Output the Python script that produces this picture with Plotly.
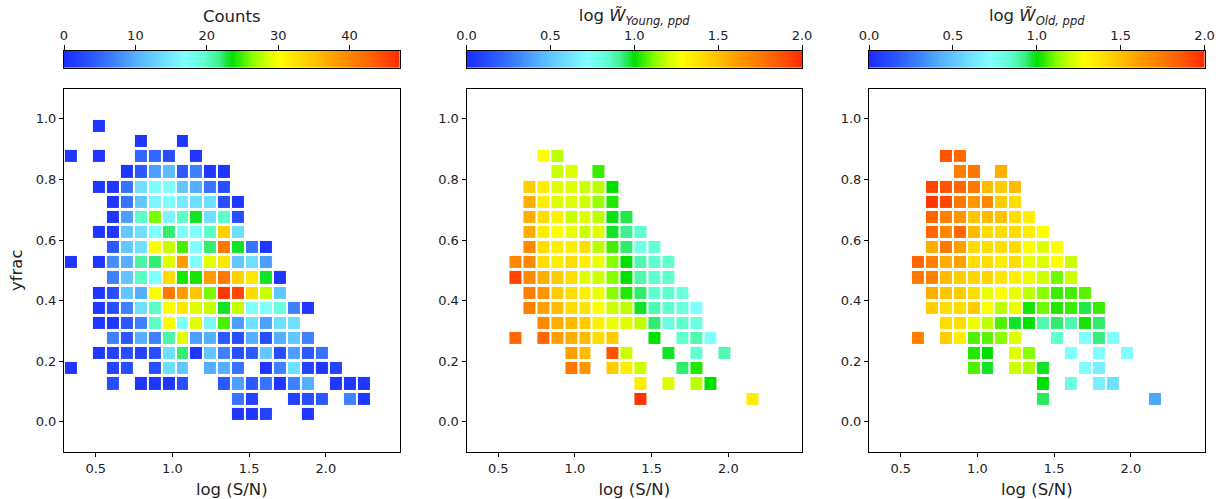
import numpy as np
import plotly.graph_objects as go

N = None

# bin centres (log S/N) and (yfrac)
x_centers = [0.338, 0.429, 0.520, 0.611, 0.702, 0.793, 0.884, 0.974, 1.065, 1.156, 1.247,
             1.338, 1.429, 1.520, 1.611, 1.702, 1.793, 1.884, 1.974, 2.065, 2.156, 2.247]
y_centers = [0.025, 0.075, 0.125, 0.175, 0.225, 0.275, 0.325, 0.375, 0.425, 0.475,
             0.525, 0.575, 0.625, 0.675, 0.725, 0.775, 0.825, 0.875, 0.925, 0.975]

# Panel 1: counts per bin (rows = y bins from bottom, cols = x bins)
counts = [
    [N, N, N, N, N, N, N, N, N, N, N, N, 1, 1, 2, N, N, 1, N, N, N, N],
    [N, N, N, N, N, N, N, N, N, N, N, N, 6, 2, N, N, 2, 3, 4, N, 7, 1],
    [N, N, N, 3, N, 1, 1, 1, 3, N, N, 4, 9, 4, 6, 1, 7, 10, N, 1, 1, 1],
    [1, N, N, 2, 3, N, 3, 14, 12, N, 10, 10, 6, N, 1, 7, 14, 2, 1, 2, N, N],
    [N, N, 1, 2, 3, 2, 3, 14, 22, 1, 12, 7, 3, 4, 12, 3, 9, 4, 6, N, N, N],
    [N, N, N, 7, 4, 10, 7, 21, 29, 9, 10, 4, 3, 10, 3, 10, 12, 7, N, N, N, N],
    [N, N, 1, 1, 4, 7, 20, 30, 17, 29, 16, 25, 9, 14, 9, 14, 14, N, N, N, N, N],
    [N, N, 1, 3, 7, 14, 20, 30, 32, 29, 28, 23, 28, 17, 17, 19, 7, 1, N, N, N, N],
    [N, N, 1, 3, 12, 10, 30, 41, 38, 35, 26, 46, 45, 33, 28, 12, N, N, N, N, N, N],
    [N, N, N, 7, 12, 20, 17, 33, 24, 24, 38, 41, 34, 32, 23, 1, N, N, N, N, N, N],
    [1, N, 1, 8, 10, 21, 22, 29, 38, 17, 29, 32, 12, 14, 9, N, N, N, N, N, N, N],
    [N, N, N, 4, 12, 14, 30, 28, 25, 17, 22, 41, 23, 6, 1, N, N, N, N, N, N, N],
    [N, N, 1, 1, 12, 14, 17, 22, 17, 17, 20, 34, 14, N, N, N, N, N, N, N, N, N],
    [N, N, N, 1, 9, 20, 26, 16, 20, 23, 14, 20, 3, N, N, N, N, N, N, N, N, N],
    [N, N, N, 1, 6, 12, 16, 17, 15, 14, 14, 3, 1, N, N, N, N, N, N, N, N, N],
    [N, N, 1, 1, 6, 14, 17, 17, 12, 10, 6, 3, N, N, N, N, N, N, N, N, N, N],
    [N, N, N, N, 1, 4, 9, 11, 4, 7, 1, 1, N, N, N, N, N, N, N, N, N, N],
    [1, N, 1, N, N, 5, 5, 3, N, 1, N, N, N, N, N, N, N, N, N, N, N, N],
    [N, N, N, N, N, 1, N, N, 1, N, N, N, N, N, N, N, N, N, N, N, N, N],
    [N, N, 1, N, N, N, N, N, N, N, N, N, N, N, N, N, N, N, N, N, N, N],
]

# Panel 2: log W_Young,ppd
young = [
    [N, N, N, N, N, N, N, N, N, N, N, N, N, N, N, N, N, N, N, N, N, N],
    [N, N, N, N, N, N, N, N, N, N, N, N, 1.97, N, N, N, N, N, N, N, 1.34, N],
    [N, N, N, N, N, N, N, N, N, N, N, N, 1.34, N, 1.23, N, 1.18, 1.00, N, N, N, N],
    [N, N, N, N, N, N, N, 1.75, 1.64, N, 1.46, 1.34, 1.20, N, N, 0.94, 1.03, N, N, N, N, N],
    [N, N, N, N, N, N, N, 1.60, 1.52, N, 1.88, 1.20, N, N, 0.98, N, 0.84, N, 0.88, N, N, N],
    [N, N, N, 1.82, N, 1.82, 1.60, 1.56, 1.52, 1.40, 1.46, N, N, 1.00, N, 0.84, 0.88, 0.72, N, N, N, N],
    [N, N, N, N, N, 1.69, 1.56, 1.52, 1.46, 1.34, 1.25, 1.23, 1.18, 0.94, 0.80, 0.84, 0.80, N, N, N, N, N],
    [N, N, N, N, 1.72, 1.60, 1.52, 1.40, 1.38, 1.28, 1.20, 1.18, 0.98, 0.88, 0.84, 0.80, 0.72, N, N, N, N, N],
    [N, N, N, N, 1.72, 1.64, 1.46, 1.40, 1.34, 1.25, 1.12, 1.03, 0.94, 0.84, 0.84, 0.80, N, N, N, N, N, N],
    [N, N, N, 1.92, 1.69, 1.56, 1.46, 1.40, 1.23, 1.20, 1.12, 1.00, 0.88, 0.84, 0.84, N, N, N, N, N, N, N],
    [N, N, N, 1.69, 1.69, 1.40, 1.34, 1.40, 1.34, 1.25, 1.12, 1.00, 0.88, 0.84, 0.84, N, N, N, N, N, N, N],
    [N, N, N, N, 1.69, 1.40, 1.34, 1.34, 1.40, 1.18, 1.06, 0.94, 0.78, 0.82, N, N, N, N, N, N, N, N],
    [N, N, N, N, 1.56, 1.34, 1.28, 1.25, 1.20, 1.23, 0.98, 0.92, 0.84, N, N, N, N, N, N, N, N, N],
    [N, N, N, N, 1.56, 1.40, 1.34, 1.20, 1.23, 1.18, 0.99, 0.96, N, N, N, N, N, N, N, N, N, N],
    [N, N, N, N, 1.56, 1.34, 1.23, 1.23, 1.20, 1.14, 1.03, N, N, N, N, N, N, N, N, N, N, N],
    [N, N, N, N, 1.46, 1.34, 1.23, 1.23, 1.20, 1.18, 1.00, N, N, N, N, N, N, N, N, N, N, N],
    [N, N, N, N, N, N, 1.20, 1.23, N, 1.05, N, N, N, N, N, N, N, N, N, N, N, N],
    [N, N, N, N, N, 1.28, 1.18, N, N, N, N, N, N, N, N, N, N, N, N, N, N, N],
    [N, N, N, N, N, N, N, N, N, N, N, N, N, N, N, N, N, N, N, N, N, N],
    [N, N, N, N, N, N, N, N, N, N, N, N, N, N, N, N, N, N, N, N, N, N],
]

# Panel 3: log W_Old,ppd
old = [
    [N, N, N, N, N, N, N, N, N, N, N, N, N, N, N, N, N, N, N, N, N, N],
    [N, N, N, N, N, N, N, N, N, N, N, N, 0.95, N, N, N, N, N, N, N, 0.40, N],
    [N, N, N, N, N, N, N, N, N, N, N, N, 1.00, N, 0.80, N, 0.66, 0.60, N, N, N, N],
    [N, N, N, N, N, N, N, 1.07, 0.98, N, 1.20, 1.16, 0.98, N, N, 0.72, 0.66, N, N, N, N, N],
    [N, N, N, N, N, N, N, 1.03, 1.00, N, 1.23, 1.12, N, N, 0.72, N, 0.72, N, 0.72, N, N, N],
    [N, N, N, 1.72, N, 1.46, 1.34, 1.07, 1.08, 1.12, 1.23, N, N, 0.84, N, 0.72, 0.93, 0.72, N, N, N, N],
    [N, N, N, N, N, 1.40, 1.40, 1.25, 1.18, 1.07, 0.98, 1.00, 0.88, 0.94, 0.88, 1.02, 0.94, N, N, N, N, N],
    [N, N, N, N, 1.46, 1.40, 1.40, 1.46, 1.28, 1.18, 1.25, 1.02, 1.10, 1.03, 1.05, 0.96, 1.05, N, N, N, N, N],
    [N, N, N, N, 1.56, 1.48, 1.46, 1.40, 1.25, 1.28, 1.25, 1.18, 1.12, 1.05, 1.06, 1.08, N, N, N, N, N, N],
    [N, N, N, 1.75, 1.72, 1.52, 1.46, 1.43, 1.43, 1.37, 1.34, 1.25, 1.20, 1.10, 1.20, N, N, N, N, N, N, N],
    [N, N, N, 1.82, 1.72, 1.56, 1.60, 1.40, 1.40, 1.34, 1.40, 1.25, 1.23, 1.28, 1.20, N, N, N, N, N, N, N],
    [N, N, N, N, 1.56, 1.75, 1.60, 1.40, 1.40, 1.40, 1.40, 1.28, 1.23, 1.28, N, N, N, N, N, N, N, N],
    [N, N, N, N, 1.82, 1.69, 1.82, 1.52, 1.40, 1.40, 1.40, 1.34, 1.28, N, N, N, N, N, N, N, N, N],
    [N, N, N, N, 1.82, 1.72, 1.64, 1.48, 1.52, 1.50, 1.40, 1.34, N, N, N, N, N, N, N, N, N, N],
    [N, N, N, N, 1.97, 1.92, 1.75, 1.64, 1.69, 1.46, 1.40, N, N, N, N, N, N, N, N, N, N, N],
    [N, N, N, N, 1.92, 1.88, 1.82, 1.75, 1.52, 1.46, 1.52, N, N, N, N, N, N, N, N, N, N, N],
    [N, N, N, N, N, N, 1.72, 1.76, N, 1.56, N, N, N, N, N, N, N, N, N, N, N, N],
    [N, N, N, N, N, 1.88, 1.82, N, N, N, N, N, N, N, N, N, N, N, N, N, N, N],
    [N, N, N, N, N, N, N, N, N, N, N, N, N, N, N, N, N, N, N, N, N, N],
    [N, N, N, N, N, N, N, N, N, N, N, N, N, N, N, N, N, N, N, N, N, N],
]

x_ticks = [0.5, 1.0, 1.5, 2.0]
x_ticktext = ["0.5", "1.0", "1.5", "2.0"]
y_ticks = [0.0, 0.2, 0.4, 0.6, 0.8, 1.0]
y_ticktext = ["0.0", "0.2", "0.4", "0.6", "0.8", "1.0"]
cb_titles = ["Counts",
             "log <i>W̃</i><sub><i>Young, ppd</i></sub>",
             "log <i>W̃</i><sub><i>Old, ppd</i></sub>"]
cb_ranges = [(0, 47), (0, 2), (0, 2)]
cb_ticks = [[0, 10, 20, 30, 40], [0, 0.5, 1.0, 1.5, 2.0], [0, 0.5, 1.0, 1.5, 2.0]]
cb_ticktext = [["0", "10", "20", "30", "40"], ["0.0", "0.5", "1.0", "1.5", "2.0"],
               ["0.0", "0.5", "1.0", "1.5", "2.0"]]

colorscale = [
    [0.00, '#1a2bff'], [0.08, '#2a55ff'], [0.16, '#4088ff'], [0.22, '#58b4ff'],
    [0.30, '#70e0ff'], [0.36, '#80ffff'], [0.42, '#60ffd0'], [0.46, '#40f090'],
    [0.50, '#00e000'], [0.53, '#44ee00'], [0.56, '#88ff00'], [0.60, '#ccff00'],
    [0.64, '#ffff00'], [0.70, '#ffdd00'], [0.76, '#ffbb00'], [0.80, '#ffa000'],
    [0.86, '#ff8000'], [0.92, '#ff6000'], [1.00, '#ff2a00'],
]

W, H = 1223, 499
ML, MR, MT, MB = 64, 18, 0, 45
PW = W - ML - MR
PH = H - MT - MB
lefts = [64, 466.5, 869]
pw = 335.5
plot_top_px = 89
cb_top_px, cb_bot_px = 51, 68


def ydom(px):
    return (H - MB - px) / PH


FONT = "DejaVu Sans"
TXT = "#222"
fig = go.Figure()
layout = dict(
    width=W, height=H, margin=dict(l=ML, r=MR, t=MT, b=MB, pad=0),
    paper_bgcolor="white", plot_bgcolor="white",
    font=dict(family=FONT, size=13, color="black"),
    showlegend=False,
)

for i, z in enumerate([counts, young, old]):
    sfx = "" if i == 0 else str(i + 1)
    cbs = str(i + 4)
    d0 = (lefts[i] - ML) / PW
    d1 = min(1.0, (lefts[i] + pw - ML) / PW)
    fig.add_trace(go.Heatmap(
        x=x_centers, y=y_centers, z=z, coloraxis="coloraxis" + sfx,
        xgap=2, ygap=3, hoverongaps=False,
        xaxis="x" + sfx, yaxis="y" + sfx,
    ))
    layout["xaxis" + sfx] = dict(
        domain=[d0, d1], range=[0.293, 2.48], anchor="y" + sfx,
        tickmode="array", tickvals=x_ticks, ticktext=x_ticktext,
        ticks="outside", ticklen=4, tickwidth=1, tickcolor="black",
        showline=True, mirror=True, linecolor="black", linewidth=1,
        showgrid=False, zeroline=False,
        tickfont=dict(size=13, color=TXT),
        title=dict(text="log (S/N)", font=dict(size=16.5, color=TXT), standoff=12),
    )
    layout["yaxis" + sfx] = dict(
        domain=[0, ydom(plot_top_px)], range=[-0.1, 1.1], anchor="x" + sfx,
        tickmode="array", tickvals=y_ticks, ticktext=y_ticktext,
        ticks="outside", ticklen=4, tickwidth=1, tickcolor="black",
        showline=True, mirror=True, linecolor="black", linewidth=1,
        showgrid=False, zeroline=False,
        tickfont=dict(size=13, color=TXT),
    )
    if i == 0:
        layout["yaxis"]["title"] = dict(text="yfrac", font=dict(size=16.5, color=TXT), standoff=8)
    layout["coloraxis" + sfx] = dict(
        colorscale=colorscale, cmin=cb_ranges[i][0], cmax=cb_ranges[i][1], showscale=False,
    )

    # colour bar drawn as a gradient strip on its own axis, ticks on top
    lo, hi = cb_ranges[i]
    grad = np.linspace(lo, hi, 300)
    fig.add_trace(go.Heatmap(
        x=grad, y=[0], z=[grad], coloraxis="coloraxis" + sfx,
        xaxis="x" + cbs, yaxis="y" + cbs, hoverinfo="skip",
    ))
    layout["xaxis" + cbs] = dict(
        domain=[d0, d1], range=[lo, hi], anchor="y" + cbs, side="top",
        tickmode="array", tickvals=cb_ticks[i], ticktext=cb_ticktext[i],
        ticks="outside", ticklen=5, tickwidth=1, tickcolor="black",
        showline=True, mirror=True, linecolor="black", linewidth=1,
        showgrid=False, zeroline=False,
        tickfont=dict(size=13, color=TXT),
        title=dict(text=cb_titles[i], font=dict(size=16.5, color=TXT), standoff=0),
    )
    layout["yaxis" + cbs] = dict(
        domain=[ydom(cb_bot_px), ydom(cb_top_px)], range=[-0.5, 0.5], anchor="x" + cbs,
        showticklabels=False, ticks="", showgrid=False, zeroline=False,
        showline=True, mirror=True, linecolor="black", linewidth=1,
    )

fig.update_layout(**layout)
fig.write_html("out.html")
